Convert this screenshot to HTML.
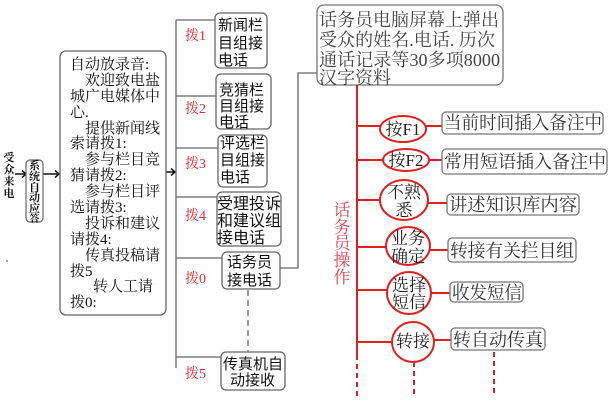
<!DOCTYPE html>
<html>
<head>
<meta charset="utf-8">
<style>
html,body{margin:0;padding:0;background:#fff;}
svg{display:block;}
.sf{font-family:"Liberation Serif","Noto Serif CJK SC",serif;}
.ss{font-family:"Liberation Sans","Noto Sans CJK SC",sans-serif;}
</style>
</head>
<body>
<svg width="612" height="401" viewBox="0 0 612 401" xmlns="http://www.w3.org/2000/svg">
<rect width="612" height="401" fill="#fff"/>

<!-- left caller text -->
<g class="sf" font-size="11" fill="#111" text-anchor="middle" font-weight="bold">
<text x="9" y="161">受</text>
<text x="9" y="173">众</text>
<text x="9" y="185">来</text>
<text x="9" y="197">电</text>
</g>
<!-- arrows -->
<g stroke="#111" stroke-width="1.5" fill="none">
<line x1="15" y1="174" x2="26" y2="174"/>
<polyline points="22,170.5 26,174 22,177.5"/>
<line x1="43" y1="174" x2="59" y2="174"/>
<polyline points="55,170.5 59,174 55,177.5"/>
<line x1="166" y1="172" x2="175" y2="172"/>
<polyline points="171,168.5 175,172 171,175.5"/>
</g>
<!-- system auto answer box -->
<rect x="26" y="160" width="17" height="62" rx="4" fill="#fff" stroke="#666" stroke-width="1.2"/>
<g class="sf" font-size="11" fill="#111" text-anchor="middle" font-weight="bold">
<text x="34.5" y="169">系</text>
<text x="34.5" y="180">统</text>
<text x="34.5" y="191">自</text>
<text x="34.5" y="201">动</text>
<text x="34.5" y="212">应</text>
<text x="34.5" y="222" font-size="10">答</text>
</g>

<!-- main recording box -->
<rect x="60" y="51" width="106" height="264" rx="6" fill="#fff" stroke="#666" stroke-width="1.3"/>
<g class="sf" font-size="15" fill="#111">
<text x="70" y="69">自动放录音:</text>
<text x="85" y="85">欢迎致电盐</text>
<text x="70" y="101">城广电媒体中</text>
<text x="70" y="117">心.</text>
<text x="85" y="133">提供新闻线</text>
<text x="70" y="148">索请拨1:</text>
<text x="85" y="164">参与栏目竞</text>
<text x="70" y="180">猜请拨2:</text>
<text x="85" y="196">参与栏目评</text>
<text x="70" y="212">选请拨3:</text>
<text x="85" y="228">投诉和建议</text>
<text x="70" y="244">请拨4:</text>
<text x="85" y="260">传真投稿请</text>
<text x="70" y="276">拨5</text>
<text x="93" y="291">转人工请</text>
<text x="70" y="307">拨0:</text>
</g>

<!-- dot -->
<circle cx="7" cy="261" r="0.8" fill="#444"/>

<!-- gray tree -->
<g stroke="#666" stroke-width="1.3" fill="none">
<line x1="176" y1="20" x2="176" y2="368"/>
<line x1="176" y1="20" x2="215" y2="20"/>
<line x1="176" y1="96" x2="216" y2="96"/>
<line x1="176" y1="148" x2="218" y2="148"/>
<line x1="176" y1="197" x2="217" y2="197"/>
<line x1="176" y1="258" x2="222" y2="258"/>
<line x1="176" y1="357" x2="221" y2="357"/>
<polyline points="280,268 298,268 298,73 317,73"/>
<line x1="248" y1="290" x2="248" y2="352" stroke-dasharray="6,4"/>
</g>

<!-- red dial labels -->
<g class="sf" font-size="14" fill="#e02a30">
<text x="185" y="40">拨1</text>
<text x="185" y="113">拨2</text>
<text x="185" y="168">拨3</text>
<text x="185" y="220">拨4</text>
<text x="185" y="283">拨0</text>
<text x="185" y="378">拨5</text>
</g>

<!-- middle boxes -->
<g fill="#fff" stroke="#666" stroke-width="1.3">
<rect x="215" y="13" width="52" height="55" rx="5"/>
<rect x="216" y="74" width="55" height="55" rx="5"/>
<rect x="218" y="135" width="49" height="52" rx="5"/>
<rect x="217" y="192" width="64" height="54" rx="5"/>
<rect x="222" y="252" width="58" height="37" rx="5"/>
<rect x="221" y="352" width="64" height="38" rx="5"/>
</g>
<g class="ss" font-size="15" fill="#111">
<text x="218" y="30">新闻栏</text>
<text x="218" y="48">目组接</text>
<text x="218" y="65">电话</text>
<text x="219" y="95">竞猜栏</text>
<text x="219" y="111">目组接</text>
<text x="219" y="127">电话</text>
<text x="220" y="148">评选栏</text>
<text x="220" y="165">目组接</text>
<text x="220" y="182">电话</text>
<text x="227" y="267">话务员</text>
<text x="227" y="285">接电话</text>
<text x="223" y="369">传真机自</text>
<text x="230" y="385">动接收</text>
</g>
<g class="ss" font-size="16" fill="#111">
<text x="217" y="209">受理投诉</text>
<text x="217" y="226">和建议组</text>
<text x="217" y="243">接电话</text>
</g>

<!-- top right box -->
<rect x="317" y="5" width="186" height="80" rx="7" fill="#fff" stroke="#777" stroke-width="1.3"/>
<g class="sf" font-size="18" fill="#444">
<text x="319" y="26" textLength="180" lengthAdjust="spacingAndGlyphs">话务员电脑屏幕上弹出</text>
<text x="319" y="46" textLength="176" lengthAdjust="spacingAndGlyphs">受众的姓名.电话. 历次</text>
<text x="319" y="66" textLength="181" lengthAdjust="spacingAndGlyphs">通话记录等30多项8000</text>
<text x="319" y="84">汉字资料</text>
</g>

<!-- red operator tree -->
<g stroke="#e02020" stroke-width="2" fill="none">
<line x1="357" y1="85" x2="357" y2="355"/>
<line x1="357" y1="355" x2="357" y2="396" stroke-dasharray="5,4"/>
<line x1="414" y1="362" x2="414" y2="396" stroke-dasharray="5,4"/>
<line x1="494" y1="352" x2="494" y2="396" stroke-dasharray="5,4"/>
<line x1="357" y1="126" x2="380" y2="126"/>
<line x1="426" y1="126" x2="442" y2="126"/>
<line x1="357" y1="160" x2="383" y2="160"/>
<line x1="429" y1="160" x2="442" y2="160"/>
<line x1="357" y1="200" x2="380" y2="200"/>
<line x1="428" y1="203" x2="447" y2="203"/>
<line x1="357" y1="247" x2="386" y2="247"/>
<line x1="430" y1="250" x2="448" y2="250"/>
<line x1="357" y1="290" x2="387" y2="290"/>
<line x1="431" y1="293" x2="450" y2="293"/>
<line x1="357" y1="342" x2="392" y2="342"/>
<line x1="434" y1="340" x2="451" y2="340"/>
<ellipse cx="403" cy="129" rx="23" ry="13" fill="#fff"/>
<ellipse cx="406" cy="160" rx="23" ry="11" fill="#fff"/>
<ellipse cx="404" cy="200" rx="24" ry="20" fill="#fff"/>
<ellipse cx="408" cy="246" rx="22" ry="19" fill="#fff"/>
<ellipse cx="409" cy="293" rx="22" ry="21" fill="#fff"/>
<ellipse cx="413" cy="342" rx="21" ry="20" fill="#fff"/>
</g>

<!-- red vertical label -->
<g class="sf" font-size="17" fill="#e04050" text-anchor="middle">
<text x="342" y="216">话</text>
<text x="342" y="233">务</text>
<text x="342" y="249">员</text>
<text x="342" y="266">操</text>
<text x="342" y="283">作</text>
</g>

<!-- ellipse texts -->
<g class="sf" font-size="17" fill="#222" text-anchor="middle">
<text x="403" y="135">按F1</text>
<text x="406" y="166">按F2</text>
<text x="404" y="198">不熟</text>
<text x="404" y="216">悉</text>
<text x="408" y="244">业务</text>
<text x="408" y="262">确定</text>
<text x="409" y="291">选择</text>
<text x="409" y="308">短信</text>
<text x="413" y="347">转接</text>
</g>

<!-- right gray boxes -->
<g fill="#fff" stroke="#777" stroke-width="1.3">
<rect x="442" y="112" width="161" height="22" rx="4"/>
<rect x="442" y="149" width="165" height="25" rx="4"/>
<rect x="447" y="194" width="132" height="21" rx="4"/>
<rect x="448" y="238" width="128" height="24" rx="4"/>
<rect x="450" y="282" width="73" height="20" rx="4"/>
<rect x="451" y="328" width="94" height="22" rx="4"/>
</g>
<g class="sf" font-size="18" fill="#333">
<text x="444" y="129" textLength="158" lengthAdjust="spacingAndGlyphs">当前时间插入备注中</text>
<text x="444" y="168" textLength="162" lengthAdjust="spacingAndGlyphs">常用短语插入备注中</text>
<text x="449" y="211" textLength="128" lengthAdjust="spacingAndGlyphs">讲述知识库内容</text>
<text x="450" y="257" textLength="124" lengthAdjust="spacingAndGlyphs">转接有关拦目组</text>
<text x="452" y="299" textLength="70" lengthAdjust="spacingAndGlyphs">收发短信</text>
<text x="453" y="346" textLength="90" lengthAdjust="spacingAndGlyphs">转自动传真</text>
</g>
</svg>
</body>
</html>
